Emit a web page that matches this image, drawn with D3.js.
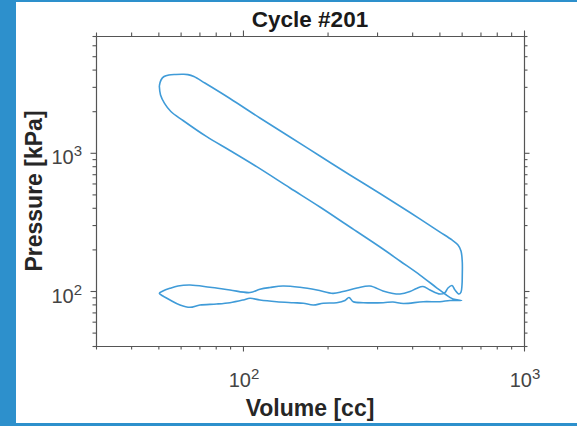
<!DOCTYPE html>
<html>
<head>
<meta charset="utf-8">
<script src="https://cdn.jsdelivr.net/npm/d3@7"></script>
<style>
  body { margin: 0; background: #fff; }
  svg { display: block; }
  text { font-family: "Liberation Sans", Arial, Helvetica, sans-serif; }
</style>
</head>
<body>
<div id="main"></div>
<script>
// CHART DATA
var title = 'Cycle #201'
var x_label = 'Volume [cc]'
var y_label = 'Pressure [kPa]'

// One engine cycle: expansion, blowdown, exhaust, intake, compression
var volume_cc = [
  50.4, 51.1, 52.4, 54.5, 57.7, 61.2, 63.7, 66.9, 73.2, 89.9,
  114.9, 147.0, 187.9, 240.3, 307.3, 392.9, 502.4, 554.3, 582.3, 596.8,
  603.1, 603.1, 601.7, 596.8, 587.1, 568.1, 554.3, 536.4, 523.4, 502.4,
  462.9, 437.1, 414.4, 392.9, 362.0, 341.8, 314.9, 283.1, 254.5, 226.9,
  209.1, 183.4, 159.5, 138.8, 124.8, 114.9, 105.9, 89.9, 76.3, 64.8,
  58.7, 55.0, 51.9, 50.4, 51.9, 55.0, 59.7, 64.8, 70.3, 80.6,
  89.9, 100.2, 105.9, 114.9, 131.8, 151.0, 163.9, 177.9, 193.1, 215.6,
  230.7, 238.4, 246.9, 268.0, 315.7, 341.8, 372.0, 438.1, 502.4, 545.3,
  600.2, 558.8, 523.4, 490.1, 426.5, 362.0, 314.9, 240.3, 187.9, 147.0,
  111.9, 89.9, 74.3, 61.2, 55.4, 52.6, 50.9, 50.4
]
var pressure_kpa = [
  3043, 3363, 3566, 3660, 3690, 3700, 3680, 3566, 3199, 2472,
  1786, 1301, 948, 691, 508, 370, 267, 234, 215, 195,
  162, 130.5, 110.5, 98.3, 95.1, 101.7, 109.6, 105.1, 97.5, 95.1,
  101.7, 107.8, 104.3, 99.2, 95.1, 95.9, 100, 108.7, 105.1, 99.2,
  96.2, 101.7, 106.4, 108.7, 106.0, 102.9, 97.5, 101.7, 106.4, 110.5,
  108.7, 104.6, 100, 96.2, 92.0, 86.1, 79.2, 76.2, 79.2, 80.5,
  82.3, 86.1, 88.6, 86.1, 83.7, 82.3, 81.5, 79.2, 81.5, 82.3,
  85.4, 89.7, 83.7, 82.3, 82.3, 83.3, 81.2, 83.7, 83.7, 85.4,
  85.4, 87.5, 95.1, 105.1, 130.5, 164.9, 201.3, 290.5, 405.3, 556.3,
  793.3, 1039, 1308, 1713, 1990, 2280, 2620, 3043
]

// Axis limits and ticks (log scales)
var x_domain = [30, 1000]
var y_domain = [40, 7000]
var x_major = [100, 1000]
var y_major = [100, 1000]
var x_minor = [30, 40, 50, 60, 70, 80, 90, 200, 300, 400, 500, 600, 700, 800, 900]
var y_minor = [40, 50, 60, 70, 80, 90, 200, 300, 400, 500, 600, 700, 800, 900,
               2000, 3000, 4000, 5000, 6000, 7000]


// LAYOUT
var width = 577
var height = 426
var plot = {left: 96, top: 36, right: 524, bottom: 346}
var line_color = '#3f9bd8'
var axis_color = '#555'
var frame_color = '#2d90cc'

var svg = d3.select('#main').append('svg')
  .attr('width', width)
  .attr('height', height)

// Blue slide frame around the figure
svg.append('rect').attr('x', 0).attr('y', 0).attr('width', 16).attr('height', height).attr('fill', frame_color)
svg.append('rect').attr('x', 0).attr('y', 0).attr('width', width).attr('height', 2).attr('fill', frame_color)
svg.append('rect').attr('x', 0).attr('y', 423).attr('width', width).attr('height', 3).attr('fill', frame_color)

var x = d3.scaleLog().domain(x_domain).range([plot.left, plot.right])
var y = d3.scaleLog().domain(y_domain).range([plot.bottom, plot.top])

// Ticks on all four sides, pointing outward (minor short, major longer)
function draw_ticks(axis_fn, scale, minor, major, translate) {
  var g_minor = svg.append('g').attr('transform', translate)
    .call(axis_fn(scale).tickValues(minor).tickSize(3.5).tickSizeOuter(0).tickFormat(''))
  var g_major = svg.append('g').attr('transform', translate)
    .call(axis_fn(scale).tickValues(major).tickSize(5.5).tickSizeOuter(0).tickFormat(''))
  for (g of [g_minor, g_major]) {
    g.selectAll('path, line').attr('stroke', axis_color).attr('stroke-width', 1.1)
  }
}
draw_ticks(d3.axisBottom, x, x_minor, x_major, `translate(0,${plot.bottom})`)
draw_ticks(d3.axisTop, x, x_minor, x_major, `translate(0,${plot.top})`)
draw_ticks(d3.axisLeft, y, y_minor, y_major, `translate(${plot.left},0)`)
draw_ticks(d3.axisRight, y, y_minor, y_major, `translate(${plot.right},0)`)

// Tick labels as 10^n with superscript
function power_label(sel, v) {
  sel.append('tspan').text('10')
  sel.append('tspan')
    .attr('dy', -8)
    .style('font-size', '15px')
    .text(Math.round(Math.log10(v)))
}

svg.selectAll('text.xtick')
  .data(x_major)
  .join('text')
    .attr('class', 'xtick')
    .attr('x', d => x(d) + 1)
    .attr('y', plot.bottom + 40.5)
    .attr('text-anchor', 'middle')
    .attr('fill', '#444')
    .style('font-size', '20px')
    .each(function(d) { power_label(d3.select(this), d) })

svg.selectAll('text.ytick')
  .data(y_major)
  .join('text')
    .attr('class', 'ytick')
    .attr('x', 82)
    .attr('y', d => y(d) + 11.5)
    .attr('text-anchor', 'end')
    .attr('fill', '#444')
    .style('font-size', '20px')
    .each(function(d) { power_label(d3.select(this), d) })

// Title and axis labels
svg.append('text')
  .attr('x', (plot.left + plot.right) / 2)
  .attr('y', 26.5)
  .attr('text-anchor', 'middle')
  .style('font-size', '22.5px')
  .style('font-weight', 'bold')
  .attr('fill', '#1a1a1a')
  .text(title)

svg.append('text')
  .attr('x', (plot.left + plot.right) / 2)
  .attr('y', 416)
  .attr('text-anchor', 'middle')
  .style('font-size', '23px')
  .style('font-weight', 'bold')
  .attr('fill', '#262626')
  .text(x_label)

svg.append('text')
  .attr('transform', `translate(42,${(plot.top + plot.bottom) / 2}) rotate(-90)`)
  .attr('text-anchor', 'middle')
  .style('font-size', '23px')
  .style('font-weight', 'bold')
  .attr('fill', '#262626')
  .text(y_label)

// The PV loop itself
svg.append('clipPath').attr('id', 'clip')
  .append('rect')
    .attr('x', plot.left).attr('y', plot.top)
    .attr('width', plot.right - plot.left).attr('height', plot.bottom - plot.top)

var points = volume_cc.map((v, i) => [v, pressure_kpa[i]])
var line = d3.line()
  .x(d => x(d[0]))
  .y(d => y(d[1]))
  .curve(d3.curveCatmullRom.alpha(0.5))

svg.append('path')
  .datum(points)
  .attr('clip-path', 'url(#clip)')
  .attr('d', line)
  .attr('fill', 'none')
  .attr('stroke', line_color)
  .attr('stroke-width', 1.6)
  .attr('stroke-linejoin', 'round')
</script>
</body>
</html>
